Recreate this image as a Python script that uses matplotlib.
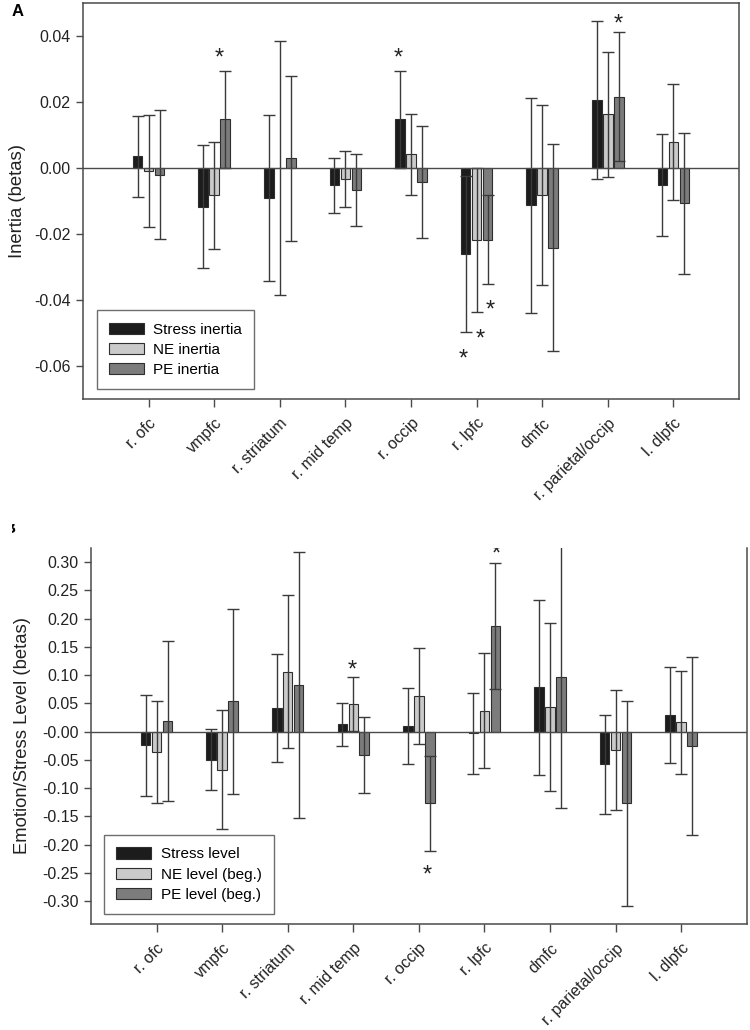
import matplotlib
matplotlib.use('Agg')
import matplotlib.pyplot as plt
from matplotlib.patches import Rectangle
import numpy as np

plt.rcParams['font.family'] = ['Liberation Sans', 'DejaVu Sans']
plt.rcParams['axes.unicode_minus'] = False

regions = ['r. ofc', 'vmpfc', 'r. striatum', 'r. mid temp', 'r. occip',
           'r. lpfc', 'dmfc', 'r. parietal/occip', 'l. dlpfc']

# panel A - inertia
stress_inertia = [0.0035, -0.0117, -0.0091, -0.0053, 0.0148, -0.0260, -0.0113, 0.0206, -0.0052]
stress_inertia_err = [0.0123, 0.0187, 0.0251, 0.0084, 0.0147, 0.0237, 0.0325, 0.0239, 0.0155]
ne_inertia = [-0.0010, -0.0083, 0.0000, -0.0033, 0.0042, -0.0217, -0.0082, 0.0163, 0.0079]
ne_inertia_err = [0.0170, 0.0163, 0.0386, 0.0085, 0.0123, 0.0218, 0.0272, 0.0190, 0.0175]
pe_inertia = [-0.0020, 0.0148, 0.0030, -0.0068, -0.0043, -0.0217, -0.0241, 0.0216, -0.0107]
pe_inertia_err = [0.0196, 0.0147, 0.0250, 0.0109, 0.0170, 0.0134, 0.0314, 0.0195, 0.0214]
stars_a = [(1.08, 0.0356), (3.80, 0.0356), (5.21, -0.0408), (5.05, -0.0496),
           (4.79, -0.0557), (7.16, 0.0460)]

# panel B - levels
stress_level = [-0.024, -0.0496, 0.0415, 0.013, 0.0107, -0.003, 0.0785, -0.058, 0.0298]
stress_level_err = [0.089, 0.054, 0.0955, 0.0378, 0.067, 0.072, 0.155, 0.0877, 0.0847]
ne_level = [-0.036, -0.067, 0.106, 0.049, 0.064, 0.0372, 0.0434, -0.0324, 0.0163]
ne_level_err = [0.091, 0.106, 0.1354, 0.048, 0.085, 0.1015, 0.149, 0.106, 0.0906]
pe_level = [0.019, 0.0535, 0.082, -0.0415, -0.127, 0.1867, 0.0974, -0.1268, -0.0253]
pe_level_err = [0.141, 0.1635, 0.2355, 0.0675, 0.084, 0.112, 0.232, 0.1817, 0.1575]
stars_b = [(2.98, 0.122), (4.13, -0.2407), (5.18, 0.3275)]

COLORS = ['#1c1c1c', '#cacaca', '#7c7c7c']
EDGE = '#2e2e2e'
AXC = '#4a4a4a'
W = 0.145
OFF = 0.167
FS = 11.5
STAR_FS = 17


def draw_panel(ax, series, errs, labels, ylim, yticks, stars, legend_anchor, top_spine=True):
    x = np.arange(len(regions))
    handles = []
    for k, (vals, err) in enumerate(zip(series, errs)):
        pos = x + (k - 1) * OFF
        b = ax.bar(pos, vals, width=W, color=COLORS[k], edgecolor=EDGE,
                   linewidth=0.8, zorder=2, label=labels[k])
        handles.append(b)
        ax.errorbar(pos, vals, yerr=err, fmt='none', ecolor='#3a3a3a',
                    elinewidth=1.0, capsize=4.2, capthick=1.0, zorder=3)
    ax.axhline(0, color=AXC, lw=1.0, zorder=4)
    for sx, sy in stars:
        ax.annotate('*', (sx, sy), xytext=(0, -0.59 * STAR_FS), textcoords='offset points',
                    ha='center', va='baseline', fontsize=STAR_FS, color='#222222',
                    annotation_clip=False, clip_on=True)
    ax.set_xlim(-1, 9)
    ax.set_ylim(*ylim)
    ax.set_yticks(yticks)
    ax.yaxis.set_major_formatter(plt.FormatStrFormatter('%.2f'))
    ax.set_xticks(x)
    ax.set_xticklabels(regions, rotation=45, ha='right', rotation_mode='anchor')
    ax.tick_params(direction='out', length=5, width=1.0, color=AXC,
                   labelsize=FS, labelcolor='#222222', pad=4)
    ax.tick_params(axis='x', length=6, pad=6)
    for s in ax.spines.values():
        s.set_color(AXC)
        s.set_linewidth(1.1)
    if not top_spine:
        ax.spines['top'].set_visible(False)
    leg = ax.legend(handles=handles, loc='lower left', bbox_to_anchor=legend_anchor,
                    fontsize=11, frameon=True, fancybox=False, borderaxespad=0,
                    handlelength=2.3, handleheight=0.75, handletextpad=0.6,
                    labelspacing=0.4, borderpad=0.8)
    leg.get_frame().set_edgecolor(AXC)
    leg.get_frame().set_linewidth(1.0)


fig = plt.figure(figsize=(7.5, 10.3), dpi=100)

ax1 = fig.add_axes([83 / 750, 1 - 399 / 1030, (739 - 83) / 750, (399 - 3) / 1030])
draw_panel(ax1, [stress_inertia, ne_inertia, pe_inertia],
           [stress_inertia_err, ne_inertia_err, pe_inertia_err],
           ['Stress inertia', 'NE inertia', 'PE inertia'],
           (-0.07, 0.05), [-0.06, -0.04, -0.02, 0.0, 0.02, 0.04], stars_a,
           (0.021, 0.025))
ax1.set_ylabel('Inertia (betas)', fontsize=13.3, color='#222222', labelpad=5.5)

ax2 = fig.add_axes([91 / 750, 1 - 924 / 1030, (746.7 - 91) / 750, (924 - 547.7) / 1030])
draw_panel(ax2, [stress_level, ne_level, pe_level],
           [stress_level_err, ne_level_err, pe_level_err],
           ['Stress level', 'NE level (beg.)', 'PE level (beg.)'],
           (-0.3404, 0.3257), np.round(np.arange(-0.30, 0.301, 0.05), 2), stars_b,
           (0.020, 0.027), top_spine=False)
ax2.set_ylabel('Emotion/Stress Level (betas)', fontsize=13.3, color='#222222', labelpad=8)

fig.text(12 / 750, 1 - 4 / 1030, 'A', fontsize=12, fontweight='bold', ha='left', va='top')
tb = fig.text(4 / 750, 1 - 521 / 1030, 'B', fontsize=12, fontweight='bold', ha='left', va='top')
tb.set_clip_path(Rectangle((12 / 750, 1 - 534 / 1030), 5 / 750, 10 / 1030,
                           transform=fig.transFigure))

fig.savefig('out.png', dpi=100, facecolor='white')
